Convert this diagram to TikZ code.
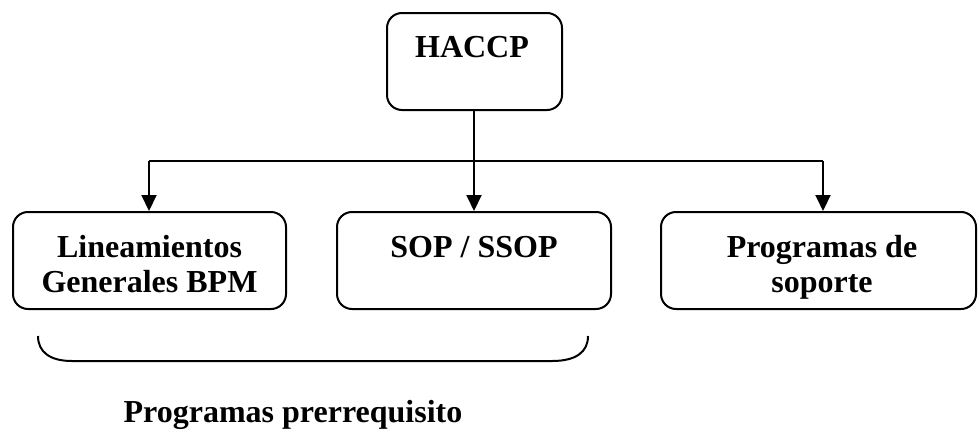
\documentclass[tikz,border=0pt]{standalone}
\usepackage{fontspec}
\setmainfont{Liberation Serif}
\usetikzlibrary{arrows.meta}

\tikzset{
  box/.style={draw, line width=1pt, rounded corners=7.5pt, inner sep=0pt},
  lbl/.style={font=\fontsize{16}{17.5}\selectfont\bfseries, align=center, inner sep=0pt, anchor=base},
  link/.style={line width=1pt},
  arr/.style={line width=1pt, -{Triangle[length=8pt,width=7.5pt]}}
}

\begin{document}
\begin{tikzpicture}[x=0.5pt, y=-0.5pt]
  \useasboundingbox (0,0) rectangle (978,439);

  % boxes
  \node[box, minimum width=87.5pt, minimum height=48.5pt] (haccp) at (474.5,61.5) {};
  \node[box, minimum width=136.5pt, minimum height=48.5pt] (bpm) at (149.5,260.5) {};
  \node[box, minimum width=137pt, minimum height=48.5pt] (sop) at (474,260.5) {};
  \node[box, minimum width=157.5pt, minimum height=48.5pt] (sup) at (818.5,260.5) {};

  % box texts (base anchor sits on the last line)
  \node[lbl] (thaccp) at (472,57) {HACCP};
  \node[lbl] (tbpm) at (149.5,292) {Lineamientos\\Generales BPM};
  \node[lbl] (tsop) at (474,257) {SOP / SSOP};
  \node[lbl] (tsup) at (822,292) {Programas de\\soporte};

  % connectors
  \coordinate (busL) at (149,161);
  \coordinate (busR) at (823,161);
  \draw[arr] (haccp.south -| sop.north) -- (sop.north);
  \draw[link] (busL) -- (busR);
  \draw[arr] (busL) -- (busL |- bpm.north);
  \draw[arr] (busR) -- (busR |- sup.north);

  % brace under the first two boxes
  \draw[line width=1pt] (38,336) .. controls (38,352) and (50,361) .. (72,361)
    -- (552,361) .. controls (576,361) and (588,352) .. (588,336);

  \node[lbl] (prereq) at (293,422) {Programas prerrequisito};
\end{tikzpicture}
\end{document}
